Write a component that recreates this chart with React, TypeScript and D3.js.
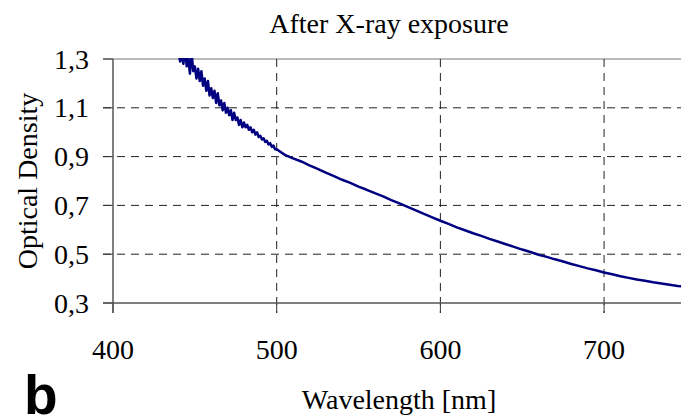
import React from "react";
import * as d3 from "d3";

const noisyWavelengths = [
  440, 441, 442, 443, 444, 445, 446, 447, 448, 449,
  450, 451, 452, 453, 454, 455, 456, 457, 458, 459,
  460, 461, 462, 463, 464, 465, 466, 467, 468, 469,
  470, 471, 472, 473, 474, 475, 476, 477, 478, 479,
  480, 481, 482, 483, 484, 485, 486, 487, 488, 489,
  490, 491, 492, 493, 494, 495, 496, 497, 498, 499, 500,
];
const noisyDensity = [
  1.33, 1.29, 1.32, 1.28, 1.35, 1.27, 1.3, 1.24, 1.33, 1.25,
  1.27, 1.22, 1.26, 1.21, 1.25, 1.19, 1.22, 1.17, 1.21, 1.15,
  1.18, 1.14, 1.17, 1.12, 1.16, 1.11, 1.13, 1.09, 1.12, 1.08,
  1.1, 1.07, 1.09, 1.05, 1.08, 1.05, 1.06, 1.03, 1.05, 1.02,
  1.04, 1.02, 1.03, 1.01, 1.02, 1.0, 1.01, 0.99, 1.0, 0.98,
  0.985, 0.97, 0.975, 0.96, 0.965, 0.95, 0.955, 0.94, 0.945, 0.93, 0.93,
];
const smoothWavelengths = [
  505, 510, 515, 520, 525, 530, 535, 540, 545, 550,
  555, 560, 565, 570, 575, 580, 585, 590, 595, 600,
  605, 610, 615, 620, 625, 630, 635, 640, 645, 650,
  655, 660, 665, 670, 675, 680, 685, 690, 695, 700,
  705, 710, 715, 720, 725, 730, 735, 740, 745, 750,
];
const smoothDensity = [
  0.907, 0.893, 0.88, 0.864, 0.85, 0.834, 0.82, 0.805, 0.792, 0.777,
  0.764, 0.75, 0.737, 0.722, 0.708, 0.694, 0.68, 0.665, 0.651, 0.637,
  0.624, 0.61, 0.598, 0.586, 0.575, 0.563, 0.552, 0.541, 0.53, 0.519,
  0.509, 0.498, 0.489, 0.479, 0.47, 0.46, 0.451, 0.442, 0.434, 0.425,
  0.418, 0.41, 0.403, 0.396, 0.391, 0.385, 0.38, 0.375, 0.37, 0.366,
];
const xTicks = [400, 500, 600, 700];
const yTicks = [0.3, 0.5, 0.7, 0.9, 1.1, 1.3];
const titleText = "After X-ray exposure";
const xLabel = "Wavelength [nm]";
const yLabel = "Optical Density";
const panelLabel = "b";

const W = 681;
const H = 418;
const left = 113;
const right = 681;
const top = 59;
const bottom = 303;
const FONT = "Liberation Serif, Times New Roman, serif";
const FS = 28;

export default function App() {
  const x = d3.scaleLinear().domain([400, 747]).range([left, right]);
  const y = d3.scaleLinear().domain([0.3, 1.3]).range([bottom, top]);
  const pts: [number, number][] = [
    ...noisyWavelengths.map((w, i) => [w, noisyDensity[i]] as [number, number]),
    ...smoothWavelengths.map((w, i) => [w, smoothDensity[i]] as [number, number]),
  ];
  const line = d3
    .line<[number, number]>()
    .x((d) => x(d[0]))
    .y((d) => y(d[1]));
  const fmt = (v: number) => v.toFixed(1).replace(".", ",");
  const textStyle = { fontFamily: FONT, fontSize: FS };

  return (
    <svg
      width={W}
      height={H}
      style={{ position: "absolute", left: 0, top: 0, background: "#fff" }}
    >
      <defs>
        <clipPath id="plotclip">
          <rect x={left} y={top - 1} width={right - left} height={bottom - top + 1} />
        </clipPath>
      </defs>
      {yTicks.map((t) =>
        t === 0.3 ? null : (
          <line
            key={"h" + t}
            x1={left - 10}
            x2={right}
            y1={y(t)}
            y2={y(t)}
            stroke={t === 1.3 ? "#777" : "#222"}
            strokeWidth={1}
            strokeDasharray={t === 1.3 ? undefined : "8,6"}
          />
        )
      )}
      {xTicks.map((t) =>
        t === 400 ? null : (
          <line
            key={"v" + t}
            x1={x(t)}
            x2={x(t)}
            y1={top}
            y2={bottom + 10}
            stroke="#222"
            strokeWidth={1}
            strokeDasharray="8,6"
          />
        )
      )}
      {yTicks.map((t) => (
        <line key={"yt" + t} x1={left - 10} x2={left} y1={y(t)} y2={y(t)} stroke="#333" strokeWidth={1} />
      ))}
      {xTicks.map((t) => (
        <line key={"xt" + t} x1={x(t)} x2={x(t)} y1={bottom} y2={bottom + 10} stroke="#333" strokeWidth={1} />
      ))}
      <line x1={left} x2={left} y1={top} y2={bottom + 10} stroke="#555" strokeWidth={1.5} />
      <line x1={left - 10} x2={right} y1={bottom} y2={bottom} stroke="#555" strokeWidth={1.5} />
      <path
        d={line(pts) || ""}
        fill="none"
        stroke="#000080"
        strokeWidth={2.5}
        strokeLinejoin="round"
        clipPath="url(#plotclip)"
      />
      {yTicks.map((t) => (
        <text key={"yl" + t} x={89} y={y(t)} dy="0.34em" textAnchor="end" style={textStyle} fill="#000">
          {fmt(t)}
        </text>
      ))}
      {xTicks.map((t) => (
        <text key={"xl" + t} x={x(t)} y={359} textAnchor="middle" style={textStyle} fill="#000">
          {t}
        </text>
      ))}
      <text x={389} y={33} textAnchor="middle" style={textStyle} fill="#000">
        {titleText}
      </text>
      <text x={399} y={409} textAnchor="middle" style={textStyle} fill="#000">
        {xLabel}
      </text>
      <text
        transform={`translate(37,${(top + bottom) / 2}) rotate(-90)`}
        textAnchor="middle"
        style={textStyle}
        fill="#000"
      >
        {yLabel}
      </text>
      <text
        x={24}
        y={414}
        style={{ fontFamily: "Liberation Sans, Arial, sans-serif", fontSize: 55, fontWeight: "bold" }}
        fill="#000"
      >
        {panelLabel}
      </text>
    </svg>
  );
}
